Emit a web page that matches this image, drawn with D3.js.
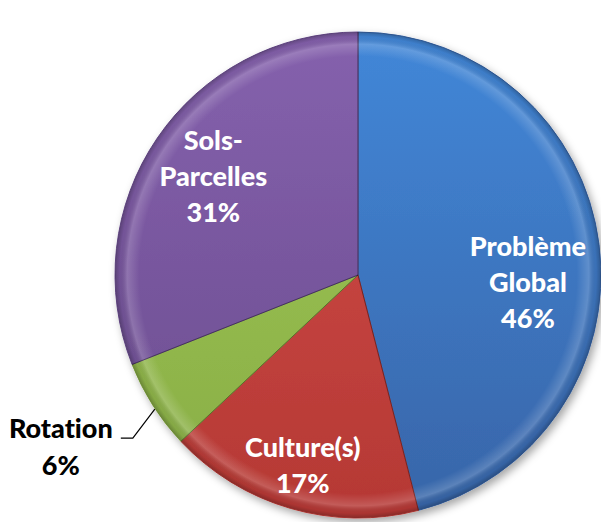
<!DOCTYPE html>
<head>
  <meta charset="utf-8">
  <title>Pie</title>
  <style>
    body { margin: 0; background: #fff; }
    text { font-family: Lato, "Open Sans", sans-serif; font-weight: 900; font-variant-ligatures: none; }
  </style>
</head>
<body>
<script src="https://cdn.jsdelivr.net/npm/d3@7"></script>
<script>
// data
var categories = ["Problème Global", "Culture(s)", "Rotation", "Sols-Parcelles"];
var values = [46, 17, 6, 31];
var labelLines = [["Problème", "Global"], ["Culture(s)"], ["Rotation"], ["Sols-", "Parcelles"]];

var width = 601, height = 522;
var cx = 358, cy = 275, radius = 243;

// office-like colours: light (top) / dark (bottom)
var colTop = ["#4287d8", "#d34f4a", "#a0c857", "#8561ad"];
var colBot = ["#3865a8", "#b53834", "#88ad45", "#6a4c8e"];

var svg = d3.select("body").append("svg")
    .attr("width", width)
    .attr("height", height);

var defs = svg.append("defs");

var shadow = defs.append("filter").attr("id", "shadow")
    .attr("x", "-10%").attr("y", "-10%").attr("width", "130%").attr("height", "130%");
shadow.append("feDropShadow")
    .attr("dx", 3).attr("dy", 4).attr("stdDeviation", 4)
    .attr("flood-color", "#000").attr("flood-opacity", 0.35);

categories.forEach(function(c, i) {
  var g = defs.append("linearGradient")
      .attr("id", "grad" + i)
      .attr("gradientUnits", "userSpaceOnUse")
      .attr("x1", 0).attr("y1", -radius).attr("x2", 0).attr("y2", radius);
  g.append("stop").attr("offset", "0%").attr("stop-color", colTop[i]);
  g.append("stop").attr("offset", "100%").attr("stop-color", colBot[i]);
});

// rim highlight gradient (bevel look)
var rim = defs.append("radialGradient")
    .attr("id", "rim")
    .attr("gradientUnits", "userSpaceOnUse")
    .attr("cx", 0).attr("cy", 0).attr("r", radius);
rim.append("stop").attr("offset", "90%").attr("stop-color", "#fff").attr("stop-opacity", 0);
rim.append("stop").attr("offset", "95%").attr("stop-color", "#fff").attr("stop-opacity", 0.18);
rim.append("stop").attr("offset", "98%").attr("stop-color", "#000").attr("stop-opacity", 0.05);
rim.append("stop").attr("offset", "100%").attr("stop-color", "#000").attr("stop-opacity", 0.25);

var pie = d3.pie().sort(null).value(function(d) { return d; });
var arcs = pie(values);

var arc = d3.arc().innerRadius(0).outerRadius(radius);

var g = svg.append("g").attr("transform", "translate(" + cx + "," + cy + ")");

var slices = g.append("g").attr("filter", "url(#shadow)");

slices.selectAll("path.slice")
    .data(arcs)
  .enter().append("path")
    .attr("class", "slice")
    .attr("d", arc)
    .attr("fill", function(d, i) { return "url(#grad" + i + ")"; })
    .attr("stroke", function(d, i) { return colBot[i]; })
    .attr("stroke-width", 1);

g.selectAll("path.rim")
    .data(arcs)
  .enter().append("path")
    .attr("class", "rim")
    .attr("d", arc)
    .attr("fill", "url(#rim)");

// thin dark separator lines between slices
g.selectAll("line.sep")
    .data(arcs)
  .enter().append("line")
    .attr("x1", 0).attr("y1", 0)
    .attr("x2", function(d) { return radius * Math.sin(d.startAngle); })
    .attr("y2", function(d) { return -radius * Math.cos(d.startAngle); })
    .attr("stroke", "#000")
    .attr("stroke-opacity", 0.35)
    .attr("stroke-width", 1);

// label placement: radius factor and angle shift per slice
var labelPlace = {
  "Problème Global": { k: 0.70, shift: 0.17 },
  "Culture(s)": { k: 0.815, shift: 0.0 },
  "Sols-Parcelles": { k: 0.72, shift: 0.0 }
};
var lineH = 36;
var fontSize = 27;

arcs.forEach(function(d, i) {
  var name = categories[i];
  var lines = labelLines[i].concat([values[i] + "%"]);
  var mid = (d.startAngle + d.endAngle) / 2;
  if (labelPlace[name]) {
    var p = labelPlace[name];
    var a = mid + p.shift;
    var x = radius * p.k * Math.sin(a);
    var y = -radius * p.k * Math.cos(a);
    var t = g.append("text")
        .attr("text-anchor", "middle")
        .attr("fill", "#fff")
        .style("font-size", fontSize + "px");
    lines.forEach(function(s, j) {
      t.append("tspan")
          .attr("x", x)
          .attr("y", y + (j - (lines.length - 1) / 2) * lineH + fontSize * 0.36)
          .text(s);
    });
  } else {
    // outside label with leader line
    var ex = radius * Math.sin(mid) + 2, ey = -radius * Math.cos(mid) + 4;
    var bx = ex - 22, by = ey + 29;
    g.append("polyline")
        .attr("points", [[ex, ey], [bx, by], [bx - 12, by]].map(function(p) { return p.join(","); }).join(" "))
        .attr("fill", "none")
        .attr("stroke", "#000")
        .attr("stroke-width", 1.2);
    var tx = bx - 72;
    var t2 = g.append("text")
        .attr("text-anchor", "middle")
        .attr("fill", "#000")
        .style("font-size", fontSize + "px");
    lines.forEach(function(s, j) {
      t2.append("tspan")
          .attr("x", tx)
          .attr("y", by + j * 37)
          .text(s);
    });
  }
});
</script>
</body>
